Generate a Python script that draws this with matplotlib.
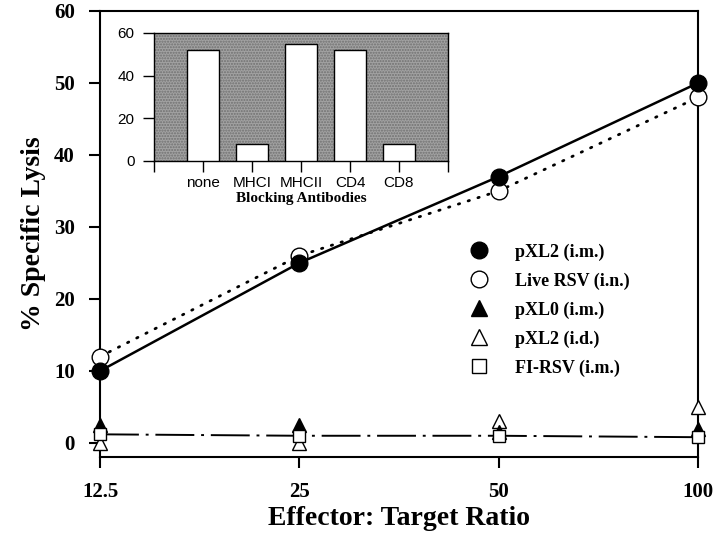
import numpy as np
import matplotlib.pyplot as plt
from matplotlib.lines import Line2D

# ── data ─────────────────────────────────────────────────────────────────────
ratios = [12.5, 25, 50, 100]
pxl2_im = [10, 25, 37, 50]
live_rsv = [12, 26, 35, 48]
pxl0_im = [2.5, 2.5, 1.5, 2.0]
pxl2_id = [0, 0, 3, 5]
fi_rsv = [1.2, 1.0, 1.0, 0.8]

block_labels = ["none", "MHCI", "MHCII", "CD4", "CD8"]
block_values = [52, 8, 55, 52, 8]

serif = ["Liberation Serif", "DejaVu Serif"]
sans = ["Liberation Sans", "DejaVu Sans"]

fig = plt.figure(figsize=(7.2, 5.55), dpi=100)
ax = fig.add_axes([100/720, 1 - 457/555, 598/720, 446/555])

# ── main lines ───────────────────────────────────────────────────────────────
ax.plot(ratios, pxl2_im, "-", color="black", lw=1.8, zorder=3)
ax.plot(ratios, live_rsv, color="black", lw=2.0, dashes=(0.5, 3.2),
        dash_capstyle="round", zorder=3)
ax.plot(ratios, fi_rsv, color="black", lw=1.4, dashes=(20, 3.5, 1.5, 3.5), zorder=2)

mk = dict(color="black", ls="none", clip_on=False, mew=1.0)
ax.plot(ratios, pxl2_id, marker="^", ms=10, mfc="white", zorder=4, **mk)
ax.plot(ratios, pxl0_im, marker="^", ms=10, mfc="black", zorder=5, **mk)
ax.plot(ratios, fi_rsv, marker="s", ms=9, mfc="white", zorder=6, **mk)
ax.plot(ratios, live_rsv, marker="o", ms=12, mfc="white", zorder=7, **mk)
ax.plot(ratios, pxl2_im, marker="o", ms=12, mfc="black", zorder=8, **mk)

ax.set_xscale("log")
ax.set_xlim(12.5, 100)
ax.set_ylim(-1.95, 60)
ax.set_xticks(ratios)
ax.set_xticklabels(["12.5", "25", "50", "100"])
ax.minorticks_off()
ax.set_yticks(range(0, 61, 10))
for sp in ax.spines.values():
    sp.set_linewidth(1.5)
ax.tick_params(axis="x", direction="out", length=8, width=1.5, pad=10)
ax.tick_params(axis="y", direction="out", length=8, width=1.5, pad=10)
for lab in ax.get_xticklabels() + ax.get_yticklabels():
    lab.set_fontfamily(serif)
    lab.set_fontweight("bold")
    lab.set_fontsize(15)

ax.set_xlabel("Effector: Target Ratio", fontsize=20, fontweight="bold",
              family=serif, labelpad=3)
ax.set_ylabel("% Specific Lysis", fontsize=20, fontweight="bold",
              family=serif, labelpad=6)

# ── legend ───────────────────────────────────────────────────────────────────
handles = [
    Line2D([], [], ls="none", marker="o", ms=12, mfc="black", mec="black"),
    Line2D([], [], ls="none", marker="o", ms=12, mfc="white", mec="black"),
    Line2D([], [], ls="none", marker="^", ms=11, mfc="black", mec="black"),
    Line2D([], [], ls="none", marker="^", ms=11, mfc="white", mec="black"),
    Line2D([], [], ls="none", marker="s", ms=10, mfc="white", mec="black"),
]
names = ["pXL2 (i.m.)", "Live RSV (i.n.)", "pXL0 (i.m.)", "pXL2 (i.d.)", "FI-RSV (i.m.)"]
fig.legend(handles, names, loc="upper left", bbox_to_anchor=(450/720, 1 - 227/555),
           frameon=False, prop=dict(family=serif, weight="bold", size=13),
           handletextpad=1.3, labelspacing=0.65, handlelength=1.4)

# ── inset ────────────────────────────────────────────────────────────────────
ins = fig.add_axes([154/720, 1 - 161/555, 294/720, 128/555])
ins.set_facecolor("#a2a2a2")
ins.fill_between([0, 6], 0, 60, facecolor="none", edgecolor="#707070",
                 hatch="......", lw=0, zorder=1)
ins.bar(range(1, 6), block_values, width=0.66, color="white", edgecolor="black",
        lw=1.0, zorder=3)
ins.set_xlim(0, 6)
ins.set_ylim(0, 60)
ins.set_xticks(range(0, 7))
ins.set_xticklabels([""] + block_labels + [""], family=sans, fontsize=11)
ins.set_yticks([0, 20, 40, 60])
ins.set_yticklabels(["0", "20", "40", "60"], family=sans, fontsize=11)
ins.tick_params(axis="x", length=8, width=1.0, pad=3)
ins.tick_params(axis="y", length=8, width=1.0, pad=6)
for sp in ins.spines.values():
    sp.set_linewidth(1.0)
ins.set_xlabel("Blocking Antibodies", family=serif, fontweight="bold",
               fontsize=11, labelpad=1)

fig.savefig("out.png", dpi=100)
